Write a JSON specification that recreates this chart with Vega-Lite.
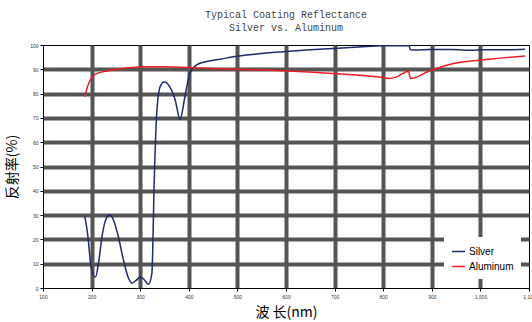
{
  "$schema": "https://vega.github.io/schema/vega-lite/v6.json",
  "autosize": "none",
  "width": 486,
  "height": 243,
  "padding": {"left": 43, "top": 45, "right": 3, "bottom": 34},
  "background": "white",
  "title": {
    "text": ["Typical Coating Reflectance", "Silver vs. Aluminum"],
    "font": "Liberation Mono",
    "fontSize": 10,
    "fontWeight": "normal",
    "color": "#444444",
    "anchor": "middle",
    "lineHeight": 13,
    "offset": 10
  },
  "config": {
    "view": {"stroke": "black", "strokeWidth": 1},
    "axis": {
      "domainColor": "black",
      "tickColor": "black",
      "tickSize": 3,
      "labelFontSize": 5,
      "labelColor": "#333333",
      "labelFont": "Liberation Sans",
      "gridColor": "#555555",
      "gridWidth": 4
    }
  },
  "datasets": {
    "curves": [
      {"wl": 186, "r": 29.5, "series": "Silver"},
      {"wl": 192, "r": 22, "series": "Silver"},
      {"wl": 198, "r": 10, "series": "Silver"},
      {"wl": 204, "r": 5, "series": "Silver"},
      {"wl": 208, "r": 4.5, "series": "Silver"},
      {"wl": 214, "r": 10, "series": "Silver"},
      {"wl": 222, "r": 22, "series": "Silver"},
      {"wl": 230, "r": 28.5, "series": "Silver"},
      {"wl": 237, "r": 30, "series": "Silver"},
      {"wl": 245, "r": 28, "series": "Silver"},
      {"wl": 254, "r": 22, "series": "Silver"},
      {"wl": 265, "r": 12, "series": "Silver"},
      {"wl": 275, "r": 4.5, "series": "Silver"},
      {"wl": 283, "r": 2, "series": "Silver"},
      {"wl": 292, "r": 3.2, "series": "Silver"},
      {"wl": 300, "r": 4.5, "series": "Silver"},
      {"wl": 308, "r": 3.5, "series": "Silver"},
      {"wl": 317, "r": 1.5, "series": "Silver"},
      {"wl": 324, "r": 6, "series": "Silver"},
      {"wl": 329, "r": 45, "series": "Silver"},
      {"wl": 334, "r": 72, "series": "Silver"},
      {"wl": 341, "r": 82.8, "series": "Silver"},
      {"wl": 349, "r": 84.8, "series": "Silver"},
      {"wl": 361, "r": 82.8, "series": "Silver"},
      {"wl": 372, "r": 77.4, "series": "Silver"},
      {"wl": 382, "r": 69.4, "series": "Silver"},
      {"wl": 392, "r": 78.7, "series": "Silver"},
      {"wl": 402, "r": 88.3, "series": "Silver"},
      {"wl": 416, "r": 91.8, "series": "Silver"},
      {"wl": 437, "r": 93.2, "series": "Silver"},
      {"wl": 464, "r": 94.1, "series": "Silver"},
      {"wl": 492, "r": 95.2, "series": "Silver"},
      {"wl": 540, "r": 96.3, "series": "Silver"},
      {"wl": 594, "r": 97.2, "series": "Silver"},
      {"wl": 650, "r": 98, "series": "Silver"},
      {"wl": 697, "r": 98.6, "series": "Silver"},
      {"wl": 750, "r": 99.2, "series": "Silver"},
      {"wl": 800, "r": 99.7, "series": "Silver"},
      {"wl": 853, "r": 99.7, "series": "Silver"},
      {"wl": 856, "r": 98, "series": "Silver"},
      {"wl": 870, "r": 97.9, "series": "Silver"},
      {"wl": 896, "r": 98.1, "series": "Silver"},
      {"wl": 940, "r": 98.1, "series": "Silver"},
      {"wl": 985, "r": 97.8, "series": "Silver"},
      {"wl": 1000, "r": 98, "series": "Silver"},
      {"wl": 1050, "r": 98, "series": "Silver"},
      {"wl": 1092, "r": 98.2, "series": "Silver"},
      {"wl": 186, "r": 78.7, "series": "Aluminum"},
      {"wl": 191, "r": 82.5, "series": "Aluminum"},
      {"wl": 197, "r": 85.6, "series": "Aluminum"},
      {"wl": 207, "r": 87.9, "series": "Aluminum"},
      {"wl": 231, "r": 89.3, "series": "Aluminum"},
      {"wl": 265, "r": 90.4, "series": "Aluminum"},
      {"wl": 306, "r": 91.1, "series": "Aluminum"},
      {"wl": 348, "r": 91.1, "series": "Aluminum"},
      {"wl": 402, "r": 90.7, "series": "Aluminum"},
      {"wl": 485, "r": 90.1, "series": "Aluminum"},
      {"wl": 594, "r": 89.4, "series": "Aluminum"},
      {"wl": 697, "r": 88.3, "series": "Aluminum"},
      {"wl": 760, "r": 87.4, "series": "Aluminum"},
      {"wl": 800, "r": 86.6, "series": "Aluminum"},
      {"wl": 812, "r": 86.2, "series": "Aluminum"},
      {"wl": 828, "r": 86.9, "series": "Aluminum"},
      {"wl": 852, "r": 89.2, "series": "Aluminum"},
      {"wl": 856, "r": 86.2, "series": "Aluminum"},
      {"wl": 896, "r": 89.4, "series": "Aluminum"},
      {"wl": 937, "r": 92, "series": "Aluminum"},
      {"wl": 985, "r": 93.5, "series": "Aluminum"},
      {"wl": 1040, "r": 94.6, "series": "Aluminum"},
      {"wl": 1092, "r": 95.5, "series": "Aluminum"}
    ]
  },
  "data": {"name": "curves"},
  "mark": {"type": "line", "strokeWidth": 1.5, "interpolate": "monotone", "clip": true},
  "encoding": {
    "x": {
      "field": "wl",
      "type": "quantitative",
      "scale": {"domain": [100, 1100], "nice": false},
      "axis": {
        "values": [100, 200, 300, 400, 500, 600, 700, 800, 900, 1000, 1100],
        "title": "波 长(nm)",
        "titleFont": "Noto Sans CJK SC",
        "titleFontSize": 14,
        "titleFontWeight": "normal",
        "titleColor": "black",
        "titlePadding": 6,
        "labelPadding": 3,
        "labelFlush": false,
        "gridOpacity": {"condition": {"test": "datum.value == 100 || datum.value == 1100", "value": 0}, "value": 1}
      }
    },
    "y": {
      "field": "r",
      "type": "quantitative",
      "scale": {"domain": [0, 100], "nice": false},
      "axis": {
        "values": [0, 10, 20, 30, 40, 50, 60, 70, 80, 90, 100],
        "title": "反射率(%)",
        "titleFont": "Noto Sans CJK SC",
        "titleFontSize": 14,
        "titleFontWeight": "normal",
        "titleColor": "black",
        "titlePadding": 10,
        "labelPadding": 2,
        "gridOpacity": {"condition": {"test": "datum.value == 0 || datum.value == 100", "value": 0}, "value": 1}
      }
    },
    "color": {
      "field": "series",
      "type": "nominal",
      "scale": {"domain": ["Silver", "Aluminum"], "range": ["#1f2a6b", "#ee1c25"]},
      "legend": {
        "title": null,
        "orient": "none",
        "legendX": 401,
        "legendY": 192,
        "fillColor": "white",
        "padding": 7,
        "symbolType": "stroke",
        "symbolSize": 170,
        "symbolStrokeWidth": 1.5,
        "labelFont": "Liberation Sans",
        "labelFontSize": 10,
        "labelColor": "black",
        "rowPadding": 2,
        "labelOffset": 3
      }
    }
  }
}
